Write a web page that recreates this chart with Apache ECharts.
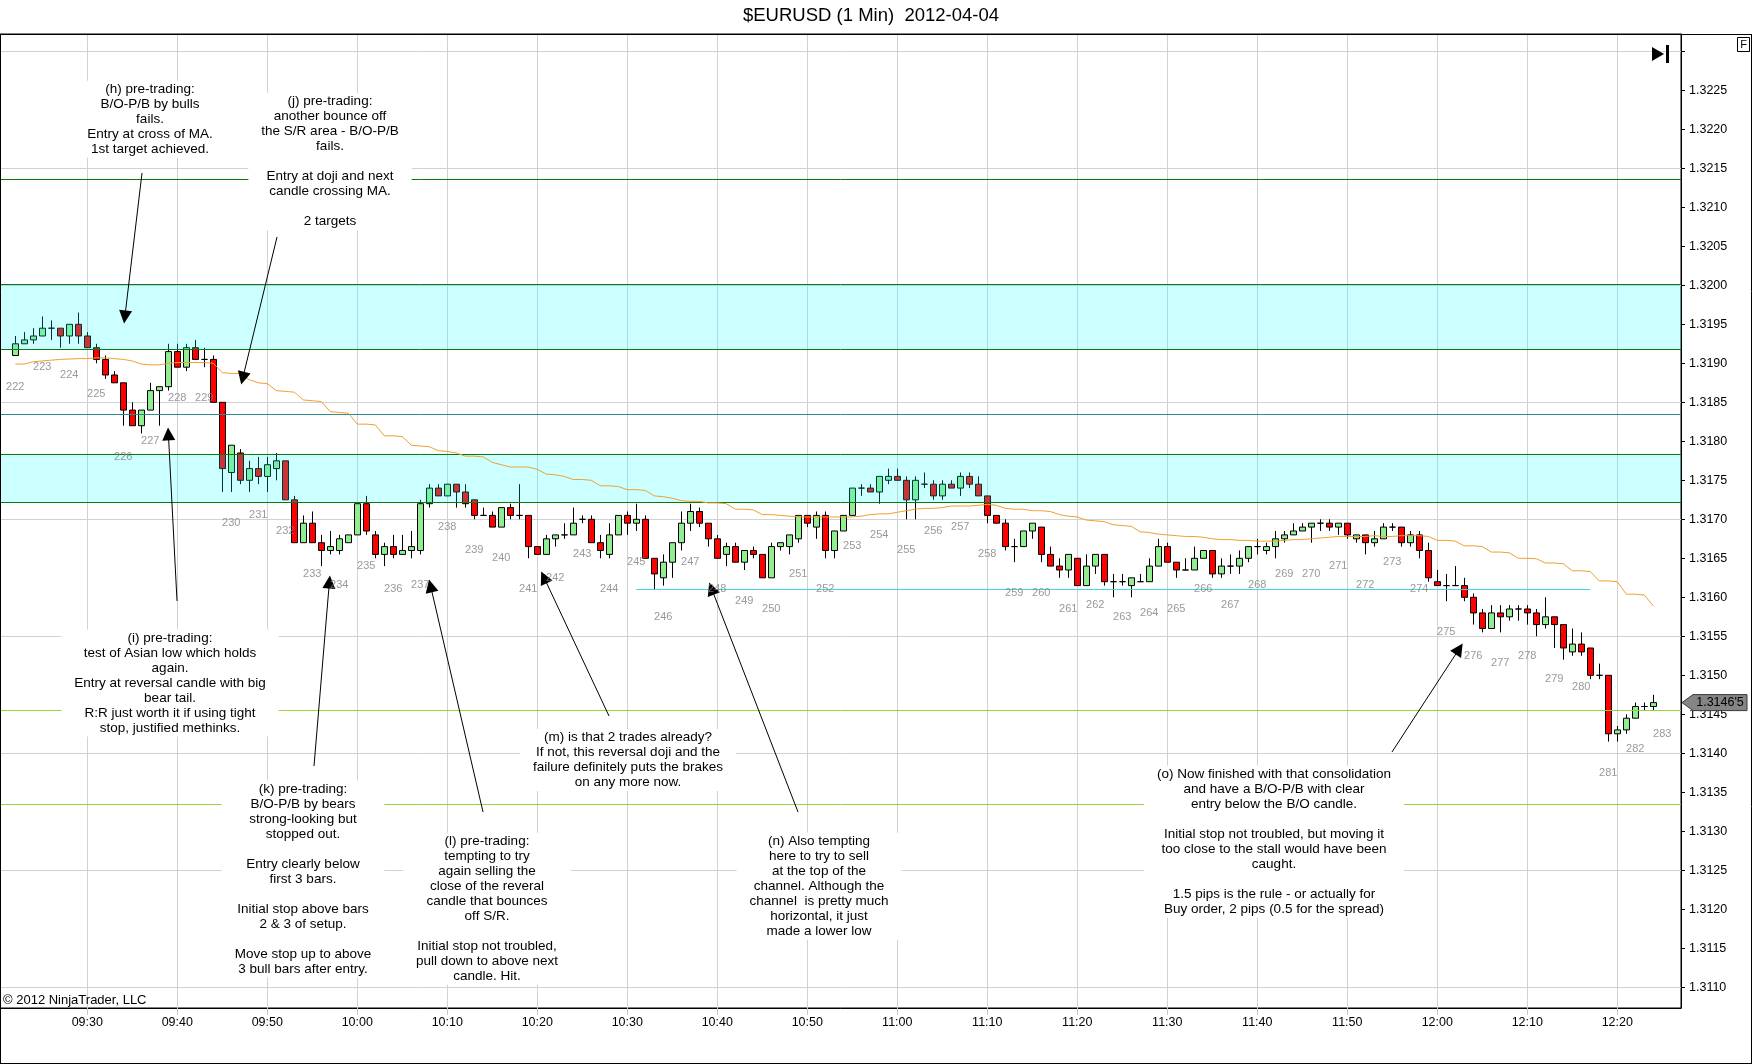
<!DOCTYPE html>
<html><head><meta charset="utf-8">
<script src="https://cdn.jsdelivr.net/npm/echarts@6/dist/echarts.min.js"></script>
<style>html,body{margin:0;padding:0;background:#fff}#c{width:1752px;height:1064px}</style>
</head><body><div id="c"></div>
<script>
// ---------------- data ----------------
const titleText = '$EURUSD (1 Min)  2012-04-04';
const firstBar = '09:22';
const opens = [
1.3191,1.31925,1.3193,1.31935,1.31945,1.31945,1.31935,1.3195,1.31935,1.3192,
1.31905,1.31885,1.31875,1.3184,1.3182,1.3184,1.31865,1.3187,1.31915,1.31895,
1.3192,1.31905,1.31905,1.3185,1.3176,1.31785,1.3175,1.31765,1.31755,1.31765,
1.31775,1.31725,1.3167,1.31695,1.3167,1.3166,1.3166,1.3167,1.3168,1.3172,
1.3168,1.31655,1.31665,1.31655,1.3166,1.3166,1.3172,1.3174,1.3173,1.31745,
1.31735,1.31725,1.31705,1.31705,1.3169,1.31715,1.31705,1.31705,1.31665,1.31655,
1.31675,1.3168,1.3168,1.317,1.317,1.3167,1.31655,1.3168,1.31705,1.31695,
1.317,1.3165,1.31625,1.31645,1.3167,1.31695,1.3171,1.31695,1.31675,1.31655,
1.31665,1.31645,1.3166,1.31655,1.31625,1.31665,1.31665,1.31675,1.31705,1.3169,
1.31705,1.3166,1.31685,1.31705,1.3174,1.3174,1.31735,1.3175,1.31755,1.3175,
1.31725,1.31745,1.31745,1.3173,1.31745,1.3174,1.31755,1.31745,1.3173,1.31705,
1.31695,1.31665,1.31665,1.31685,1.3169,1.31655,1.3164,1.31635,1.3165,1.31615,
1.3164,1.31655,1.3162,1.3162,1.31615,1.3162,1.3162,1.3164,1.31665,1.31645,
1.31635,1.31635,1.3165,1.3166,1.3163,1.3164,1.3164,1.3165,1.31665,1.3166,
1.31665,1.31675,1.3168,1.31685,1.3169,1.31695,1.31695,1.3169,1.31695,1.31675,
1.3168,1.3167,1.31675,1.3169,1.3169,1.3167,1.3168,1.3166,1.3162,1.31615,
1.31615,1.31615,1.316,1.3158,1.3156,1.3158,1.31575,1.31585,1.31585,1.3158,
1.31565,1.31575,1.31565,1.3153,1.3154,1.31535,1.315,1.315,1.31425,1.3143,
1.31445,1.3146,1.3146];
const highs = [
1.31935,1.3194,1.31945,1.3196,1.31955,1.31945,1.3195,1.31965,1.3194,1.31925,
1.3191,1.3189,1.31875,1.3185,1.3184,1.31875,1.3187,1.31925,1.31925,1.31925,
1.3193,1.3192,1.3191,1.3185,1.31795,1.3179,1.31775,1.3178,1.3178,1.31785,
1.31775,1.3173,1.31705,1.3171,1.3168,1.31685,1.3168,1.3168,1.3172,1.3173,
1.31685,1.3167,1.3168,1.3168,1.31685,1.31725,1.31745,1.31745,1.31745,1.31745,
1.31745,1.31725,1.31715,1.3171,1.31715,1.3172,1.31745,1.31705,1.31665,1.3168,
1.3168,1.31695,1.31715,1.31705,1.31705,1.3168,1.31695,1.31705,1.3171,1.3172,
1.31705,1.3165,1.31655,1.3167,1.3171,1.3172,1.31715,1.31695,1.3168,1.3167,
1.3167,1.3166,1.31665,1.31655,1.3167,1.3167,1.3168,1.31705,1.31705,1.3171,
1.3171,1.31685,1.31705,1.3174,1.31745,1.31745,1.31755,1.31765,1.31765,1.31755,
1.31755,1.3176,1.3175,1.3175,1.3175,1.3176,1.3176,1.31755,1.3173,1.31705,
1.317,1.31675,1.31685,1.31695,1.3169,1.31665,1.3165,1.31655,1.3165,1.31655,
1.31655,1.31655,1.3163,1.3163,1.31625,1.3163,1.3165,1.31675,1.3167,1.31645,
1.3165,1.31665,1.3166,1.3166,1.3165,1.31655,1.3166,1.31665,1.31675,1.3167,
1.31685,1.31685,1.31695,1.31695,1.31695,1.317,1.317,1.31695,1.31695,1.3168,
1.3168,1.31685,1.31695,1.31695,1.3169,1.31685,1.31685,1.3167,1.31635,1.3163,
1.3164,1.31625,1.31605,1.31585,1.3159,1.3159,1.3159,1.3159,1.3159,1.31585,
1.316,1.31575,1.31565,1.3156,1.31555,1.31535,1.31515,1.315,1.31435,1.3145,
1.31465,1.31465,1.31475];
const lows = [
1.3191,1.31925,1.31925,1.31935,1.3193,1.3192,1.31925,1.31925,1.3192,1.319,
1.3188,1.31875,1.3182,1.3182,1.3181,1.3184,1.3182,1.31865,1.31895,1.3189,
1.31905,1.31895,1.3185,1.31735,1.31735,1.31745,1.31735,1.31745,1.31735,1.3175,
1.31725,1.3167,1.3167,1.3167,1.3164,1.31655,1.31655,1.3167,1.3168,1.3168,
1.3165,1.3164,1.3165,1.31655,1.3165,1.31655,1.31715,1.3173,1.3173,1.31715,
1.31715,1.317,1.31705,1.3169,1.3169,1.317,1.317,1.3165,1.31655,1.31655,
1.31665,1.31675,1.3168,1.31695,1.3167,1.3165,1.3165,1.3168,1.3168,1.31685,
1.3165,1.3161,1.31615,1.31625,1.3166,1.31685,1.3169,1.31665,1.3165,1.3164,
1.31645,1.31635,1.3165,1.31625,1.31625,1.3166,1.31655,1.3167,1.3169,1.31675,
1.3165,1.3165,1.31685,1.31705,1.3173,1.31735,1.3172,1.31745,1.3175,1.317,
1.317,1.3174,1.31725,1.31725,1.3174,1.3173,1.3174,1.3173,1.31695,1.31695,
1.3166,1.31645,1.31665,1.31675,1.31645,1.3164,1.31625,1.31625,1.31615,1.31615,
1.3163,1.31615,1.316,1.31615,1.316,1.3162,1.3162,1.3164,1.31645,1.31625,
1.31635,1.31635,1.3165,1.31625,1.31625,1.3163,1.3163,1.31645,1.31655,1.31655,
1.3165,1.3167,1.3168,1.31685,1.3167,1.31685,1.31685,1.3168,1.31675,1.3167,
1.31655,1.31665,1.31675,1.31685,1.31665,1.31665,1.3165,1.3162,1.31615,1.31595,
1.31615,1.31595,1.31565,1.31555,1.3156,1.31555,1.3157,1.3157,1.31565,1.3155,
1.3156,1.31535,1.3152,1.31525,1.31525,1.31495,1.31495,1.31415,1.31415,1.31425,
1.31445,1.31455,1.31455];
const closes = [
1.31925,1.3193,1.31935,1.31945,1.31945,1.31935,1.3195,1.31935,1.3192,1.31905,
1.31885,1.31875,1.3184,1.3182,1.3184,1.31865,1.3187,1.31915,1.31895,1.3192,
1.31905,1.31905,1.3185,1.31765,1.31795,1.3175,1.31765,1.31755,1.3177,1.31775,
1.31725,1.3167,1.31695,1.3167,1.3166,1.31665,1.31675,1.3168,1.3172,1.31685,
1.31655,1.31665,1.31655,1.3166,1.31665,1.3172,1.3174,1.3173,1.31745,1.31735,
1.3172,1.31705,1.31705,1.3169,1.31715,1.31705,1.31705,1.31665,1.31655,1.31675,
1.3168,1.3168,1.31695,1.317,1.3167,1.3166,1.3168,1.31705,1.31695,1.317,
1.3165,1.3163,1.31645,1.3167,1.31695,1.3171,1.31695,1.31675,1.3165,1.31665,
1.31645,1.3166,1.31655,1.31625,1.31665,1.3167,1.3168,1.31705,1.31695,1.31705,
1.3166,1.31685,1.31705,1.3174,1.3174,1.31735,1.31755,1.31755,1.3175,1.31725,
1.3175,1.31745,1.3173,1.31745,1.3174,1.31755,1.31745,1.3173,1.31705,1.31695,
1.31665,1.31665,1.31685,1.31695,1.31655,1.3164,1.31635,1.31655,1.31615,1.3164,
1.31655,1.3162,1.3162,1.3162,1.31625,1.3162,1.3164,1.31665,1.31645,1.31635,
1.31635,1.3165,1.3166,1.3163,1.3164,1.3164,1.3165,1.31665,1.31665,1.31665,
1.31675,1.3168,1.31685,1.3169,1.31695,1.31695,1.3169,1.31695,1.3168,1.3168,
1.3167,1.31675,1.3169,1.3169,1.3167,1.3168,1.3166,1.31625,1.31615,1.31615,
1.31615,1.316,1.3158,1.3156,1.3158,1.31575,1.31585,1.31585,1.3158,1.31565,
1.31575,1.31565,1.31535,1.3154,1.3153,1.315,1.315,1.31425,1.3143,1.31445,
1.3146,1.3146,1.31465];
const maValues = [
1.31899,1.31899,1.31902,1.31903,1.31904,1.31905,1.319055,1.31906,1.31906,1.31907,
1.31907,1.31906,1.31905,1.31903,1.31899,1.31898,1.31898,1.319,1.31901,1.31901,
1.31901,1.31901,1.319,1.31888,1.31887,1.31887,1.31879,1.31875,1.31874,1.31865,
1.31864,1.31863,1.31853,1.31852,1.31851,1.31838,1.31837,1.31836,1.31822,1.31822,
1.31821,1.31807,1.31807,1.31806,1.31795,1.31794,1.31793,1.31788,1.31787,1.31785,
1.31781,1.31781,1.3178,1.31773,1.3177,1.31767,1.31767,1.31767,1.31764,1.31758,
1.31757,1.31755,1.31751,1.31751,1.3175,1.31743,1.31743,1.31742,1.31738,1.31738,
1.31737,1.3173,1.31729,1.31727,1.31724,1.31723,1.31723,1.31721,1.31721,1.3172,
1.31713,1.31713,1.31712,1.31706,1.31706,1.31705,1.31704,1.31703,1.31703,1.31703,
1.31703,1.31703,1.31703,1.31703,1.31704,1.31706,1.31707,1.31707,1.31709,1.31711,
1.31713,1.31714,1.31714,1.31715,1.31717,1.31717,1.31717,1.31718,1.31719,1.31718,
1.31714,1.31713,1.31713,1.31711,1.31711,1.3171,1.31706,1.31704,1.31703,1.31699,
1.31698,1.31697,1.31693,1.31692,1.31691,1.31684,1.31683,1.31681,1.3168,1.31679,
1.31678,1.31678,1.31677,1.31675,1.31674,1.31674,1.31673,1.31673,1.31672,1.31672,
1.31672,1.31673,1.31674,1.31674,1.31675,1.31676,1.31677,1.31678,1.31678,1.31678,
1.31678,1.31679,1.31678,1.31678,1.31679,1.31679,1.31679,1.31678,1.31673,1.31673,
1.31672,1.31666,1.31666,1.31665,1.31658,1.31658,1.31657,1.3165,1.3165,1.316495,
1.31644,1.31644,1.31643,1.31634,1.31634,1.31633,1.31621,1.31621,1.3162,1.31604,
1.31604,1.31603,1.31589];
const barNumbers = [222,223,224,225,226,227,228,229,230,231,232,233,234,235,236,237,238,239,240,241,
242,243,244,245,246,247,248,249,250,251,252,253,254,255,256,257,258,259,260,261,262,263,264,265,
266,267,268,269,270,271,272,273,274,275,276,277,278,279,280,281,282,283];
const xTickLabels = ['09:30','09:40','09:50','10:00','10:10','10:20','10:30','10:40','10:50','11:00',
'11:10','11:20','11:30','11:40','11:50','12:00','12:10','12:20'];
const yTickLabels = ['1.3110','1.3115','1.3120','1.3125','1.3130','1.3135','1.3140','1.3145','1.3150',
'1.3155','1.3160','1.3165','1.3170','1.3175','1.3180','1.3185','1.3190','1.3195','1.3200','1.3205',
'1.3210','1.3215','1.3220','1.3225'];
const yTopTick = 1.3230;
const gridLevels = [1.3110,1.3125,1.3140,1.3155,1.3170,1.3185,1.3200,1.3215,1.3230];
const topLevel = 1.32136;
const band1 = [1.31918, 1.32001];
const tealLevel = 1.31835;
const band2 = [1.31722, 1.31784];
const channelLevel = 1.3161, channelFrom = '10:31', channelTo = '12:17';
const yellowLevels = [1.31455, 1.31335];

const noteH = '(h) pre-trading:\nB/O-P/B by bulls\nfails.\nEntry at cross of MA.\n1st target achieved.';
const noteJ = '(j) pre-trading:\nanother bounce off\nthe S/R area - B/O-P/B\nfails.\n\nEntry at doji and next\ncandle crossing MA.\n\n2 targets';
const noteI = '(i) pre-trading:\ntest of Asian low which holds\nagain.\nEntry at reversal candle with big\nbear tail.\nR:R just worth it if using tight\nstop, justified methinks.';
const noteK = '(k) pre-trading:\nB/O-P/B by bears\nstrong-looking but\nstopped out.\n\nEntry clearly below\nfirst 3 bars.\n\nInitial stop above bars\n2 & 3 of setup.\n\nMove stop up to above\n3 bull bars after entry.';
const noteL = '(l) pre-trading:\ntempting to try\nagain selling the\nclose of the reveral\ncandle that bounces\noff S/R.\n\nInitial stop not troubled,\npull down to above next\ncandle. Hit.';
const noteM = '(m) is that 2 trades already?\nIf not, this reversal doji and the\nfailure definitely puts the brakes\non any more now.';
const noteN = '(n) Also tempting\nhere to try to sell\nat the top of the\nchannel. Although the\nchannel  is pretty much\nhorizontal, it just\nmade a lower low';
const noteO = '(o) Now finished with that consolidation\nand have a B/O-P/B with clear\nentry below the B/O candle.\n\nInitial stop not troubled, but moving it\ntoo close to the stall would have been\ncaught.\n\n1.5 pips is the rule - or actually for\nBuy order, 2 pips (0.5 for the spread)';
const copyright = '\u00a9 2012 NinjaTrader, LLC';

// arrows: [fromMinute, fromPrice] -> [toMinute, toPrice] (minutes after 09:00)
const arrows = [
  [[36.08,1.32144],[34.17,1.319594]],
  [[51.08,1.320619],[47.27,1.318809]],
  [[39.97,1.315953],[39.01,1.318094]],
  [[55.19,1.313837],[56.90,1.316196]],
  [[73.97,1.313247],[68.14,1.316147]],
  [[87.97,1.314478],[80.74,1.316256]],
  [[108.97,1.313247],[99.36,1.316113]],
  [[174.97,1.314017],[182.43,1.315338]]
];

// ---------------- build ----------------
const X_MIN = 20.3, X_MAX = 207.08, Y_MIN = 1.3107346, Y_MAX = 1.3232218;
const toMin = s => { const [h,m] = s.split(':').map(Number); return (h-9)*60 + m; };
const start = toMin(firstBar);
const mins = opens.map((_, i) => start + i);
const candleData = mins.map((m,i) => [m, opens[i], closes[i], lows[i], highs[i]]);
const maData = mins.map((m,i) => [m, maValues[i]]);
const labelData = barNumbers.map((n,k) => {
  const i = 3*k;
  const m = start + i;
  const y = i < lows.length ? lows[i] : closes[closes.length-1];
  return [m, y, String(n)];
});
const xTickValues = xTickLabels.map(toMin);
const yLabelValues = yTickLabels.map(Number);
const yTickValues = yLabelValues.concat([yTopTick]);

const FONT = '"Liberation Sans", Arial, Helvetica, sans-serif';
const lineStyle = (c) => ({ color: c, width: 1, type: 'solid' });
const hLine = (v, c, x0, x1) => [
  { coord: [x0 == null ? X_MIN : x0, v], lineStyle: lineStyle(c) },
  { coord: [x1 == null ? X_MAX : x1, v] }
];

function note(text, cx, top) {
  return { type: 'text', x: cx, y: top, z: 100, silent: true,
    style: { text, fill: '#000', fontSize: 13.5, fontFamily: FONT, align: 'center',
      verticalAlign: 'top', lineHeight: 15, backgroundColor: '#fff', padding: [1, 13] } };
}
function seg(x1,y1,x2,y2){ return {type:'line', z:100, silent:true, shape:{x1,y1,x2,y2}, style:{stroke:'#000', lineWidth:1}}; }

const chart = echarts.init(document.getElementById('c'), null, {renderer: 'canvas'});
const option = {
  animation: false,
  backgroundColor: '#fff',
  grid: { left: 0, right: 71, top: 34, bottom: 56, show: true, borderColor: '#000', borderWidth: 1,
          outerBoundsMode: 'none', containLabel: false },
  xAxis: {
    type: 'value', min: X_MIN, max: X_MAX,
    axisLine: { show: true, onZero: false, lineStyle: { color: '#000', width: 1 } },
    axisTick: { show: true, customValues: xTickValues, length: 7, lineStyle: { color: '#C8C8C8' } },
    axisLabel: { show: true, customValues: xTickValues, margin: 8, color: '#000', fontSize: 12.5, fontFamily: FONT,
                 formatter: v => xTickLabels[xTickValues.indexOf(Math.round(v))] || '' },
    splitLine: { show: true, lineStyle: { color: '#D2D2D2', width: 1 } }
  },
  yAxis: {
    type: 'value', position: 'right', min: Y_MIN, max: Y_MAX, scale: true,
    axisLine: { show: true, onZero: false, lineStyle: { color: '#000', width: 1 } },
    axisTick: { show: true, customValues: yTickValues, length: 4, lineStyle: { color: '#000' } },
    axisLabel: { show: true, customValues: yLabelValues, margin: 8, color: '#000', fontSize: 12.5, fontFamily: FONT,
                 formatter: v => v.toFixed(4) },
    splitLine: { show: false }
  },
  series: [
    { // horizontal grid lines
      type: 'line', data: [], z: 1, silent: true,
      markLine: { z: 1, silent: true, symbol: ['none','none'], label: { show: false },
        emphasis: { disabled: true },
        data: gridLevels.map(v => hLine(v, '#D2D2D2')) }
    },
    {
      type: 'candlestick', z: 2, barWidth: 6, silent: true,
      encode: { x: 0, y: [1, 2, 3, 4] },
      data: candleData,
      itemStyle: { color: '#90EE90', color0: '#FF0000', borderColor: '#000', borderColor0: '#000',
                   borderColorDoji: '#000', borderWidth: 1 }
    },
    { // S/R bands overlaid
      type: 'line', data: [], z: 3, silent: true,
      markArea: { z: 3, silent: true, itemStyle: { color: 'rgba(0,255,255,0.2)', borderWidth: 0 }, label: { show: false },
        data: [[{ coord: [X_MIN, band1[0]] }, { coord: [X_MAX, band1[1]] }],
               [{ coord: [X_MIN, band2[0]] }, { coord: [X_MAX, band2[1]] }]] }
    },
    {
      type: 'line', name: 'MA', z: 4, silent: true, showSymbol: false, symbol: 'none',
      data: maData, lineStyle: { color: '#F0A030', width: 1 }
    },
    { // horizontal S/R lines
      type: 'line', data: [], z: 4, silent: true,
      markLine: { z: 4, silent: true, symbol: ['none','none'], label: { show: false }, emphasis: { disabled: true },
        data: [
          hLine(topLevel, '#0A7A0A'),
          hLine(band1[1], '#0A7A0A'),
          hLine(band1[0], '#0A7A0A'),
          hLine(tealLevel, '#2A8C8C'),
          hLine(band2[1], '#0A7A0A'),
          hLine(band2[0], '#0A7A0A'),
          hLine(yellowLevels[0], '#99D040'),
          hLine(yellowLevels[1], '#99D040'),
          hLine(channelLevel, '#40D8E0', toMin(channelFrom), toMin(channelTo))
        ] }
    },
    { // arrows
      type: 'line', data: [], z: 5, silent: true,
      markLine: { z: 5, silent: true, symbol: ['none', 'triangle'], symbolSize: 13, label: { show: false },
        emphasis: { disabled: true },
        lineStyle: { color: '#000', width: 1, type: 'solid' },
        itemStyle: { color: '#000' },
        data: arrows.map(a => [{ coord: a[0] }, { coord: a[1] }]) }
    },
    { // bar numbers
      type: 'scatter', z: 5, silent: true, symbolSize: 1, itemStyle: { color: 'rgba(0,0,0,0)' },
      data: labelData,
      label: { show: true, position: 'inside', offset: [0, 31], color: '#808080', fontSize: 11, fontFamily: FONT,
               formatter: p => p.value[2] }
    }
  ],
  graphic: [
    { type: 'text', x: 871, y: 16, z: 100, silent: true,
      style: { text: titleText, fill: '#000', fontSize: 18.5, fontFamily: FONT, align: 'center', verticalAlign: 'middle' } },
    seg(0, 34.5, 1752, 34.5), seg(0.5, 34, 0.5, 1064), seg(1751.5, 34, 1751.5, 1064), seg(0, 1063.5, 1752, 1063.5),
    { type: 'rect', z: 100, silent: true, shape: { x: 1737.5, y: 37.5, width: 12, height: 14 }, style: { fill: '#fff', stroke: '#000', lineWidth: 1 } },
    { type: 'text', x: 1743.5, y: 45, z: 101, silent: true, style: { text: 'F', fill: '#000', fontSize: 11, fontFamily: FONT, align: 'center', verticalAlign: 'middle' } },
    { type: 'polygon', z: 100, silent: true, shape: { points: [[1652,47],[1664,54],[1652,61]] }, style: { fill: '#000' } },
    { type: 'rect', z: 100, silent: true, shape: { x: 1666, y: 45, width: 3, height: 18 }, style: { fill: '#000' } },
    { type: 'text', x: 3, y: 1000, z: 100, silent: true, style: { text: copyright, fill: '#000', fontSize: 13, fontFamily: FONT, align: 'left', verticalAlign: 'middle' } },
    note(noteH, 150, 80.8),
    note(noteJ, 330, 93.2),
    note(noteI, 170, 629.5),
    note(noteK, 303, 780.5),
    note(noteL, 487, 832.8),
    note(noteM, 628, 728.9),
    note(noteN, 819, 832.8),
    note(noteO, 1274, 765.8)
  ]
};
chart.setOption(option);

// last-price tag on the price axis
const last = closes[closes.length - 1];
const ty = chart.convertToPixel({ yAxisIndex: 0 }, last);
const digits = String(Math.round(last * 100000));
const tagText = digits[0] + '.' + digits.slice(1, 5) + "'" + digits.slice(5);
chart.setOption({ graphic: [
  { type: 'polygon', id: 'tag', z: 110, silent: true,
    shape: { points: [[1682, ty], [1693, ty - 8], [1747, ty - 8], [1747, ty + 8], [1693, ty + 8]] },
    style: { fill: '#858585', stroke: '#3A3A3A', lineWidth: 1 } },
  { type: 'text', id: 'tagText', x: 1720, y: ty, z: 111, silent: true,
    style: { text: tagText, fill: '#000', fontSize: 12.5, fontFamily: FONT, align: 'center', verticalAlign: 'middle' } }
] });
</script>
</body></html>
